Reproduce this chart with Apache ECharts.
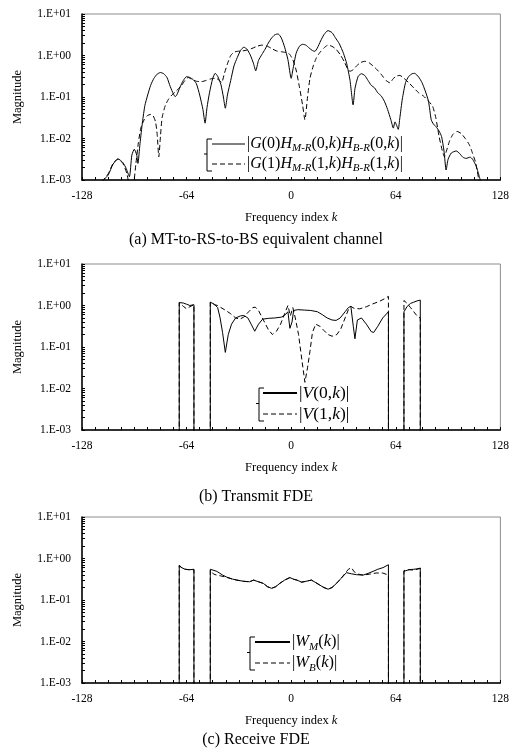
<!DOCTYPE html>
<html>
<head>
<meta charset="utf-8">
<title>FDE channel plots</title>
<script src="https://cdn.jsdelivr.net/npm/echarts@6/dist/echarts.min.js"></script>
<style>
  html, body { margin: 0; padding: 0; background: #fff; }
  #chart { width: 512px; height: 756px; }
</style>
</head>
<body>
<div id="chart"></div>
<script>
// 0 on a log axis is not drawable, so band edges drop to this value (far below 1.E-03)
var F = 1e-6;

// axis ticks
var xTickLabels = [-128, -64, 0, 64, 128];
var yTickLabels = ['1.E-03', '1.E-02', '1.E-01', '1.E+00', '1.E+01'];

// (a) MT-to-RS-to-BS equivalent channel
var kA0 = [-116,-112,-109,-106,-103,-101,-99,-97.5,-96,-94.5,
  -93.8,-92.5,-91,-89.5,-88,-86,-84,-82,-80,-78,
  -76,-74,-72,-71,-70,-68,-66,-64,-62,-60,
  -58,-56,-54,-52.7,-51.5,-50,-48,-46.5,-45,-43,
  -41.5,-40.3,-39,-37,-35,-33,-31,-29,-27,-25,
  -23,-21.7,-20,-18,-16,-14,-12,-10,-8,-6,
  -4,-2,0,1,3,5,7,9,11,13,
  14.5,16,18,20,22.5,25,27,29.5,32,34,
  36,37.9,39,41,43,45,47,49,51,53,
  55,57,59,61,62.5,63.5,64.5,65.5,66.5,68,
  70,72,74,75.5,78,80,82,84,85.7,87,
  88.7,90.5,92,93.5,94.8,96,98,101,103,105,
  107,109.5,111,113,115,116];
var magA0 = [0.0009,0.00132,0.0024,0.00324,0.00263,0.00191,0.0012,0.00398,0.0055,0.00398,
  0.00251,0.00759,0.0251,0.0631,0.105,0.191,0.282,0.355,0.389,0.363,
  0.295,0.178,0.117,0.102,0.112,0.174,0.251,0.309,0.295,0.263,
  0.209,0.112,0.0501,0.0234,0.0562,0.126,0.282,0.372,0.316,0.2,
  0.1,0.0537,0.112,0.251,0.562,0.891,1.318,1.585,1.413,1.023,
  0.631,0.427,0.759,1.047,1.413,1.995,2.63,3.162,3.311,2.63,
  1.585,0.794,0.282,0.447,1.122,1.66,1.862,1.778,1.514,1.318,
  1.259,1.514,2.239,3.162,3.981,3.548,2.692,1.905,1.122,0.631,
  0.251,0.0646,0.158,0.316,0.363,0.331,0.251,0.191,0.166,0.126,
  0.107,0.0794,0.0501,0.0282,0.0178,0.0251,0.0209,0.0166,0.0316,0.0891,
  0.224,0.316,0.363,0.372,0.302,0.224,0.141,0.0794,0.0282,0.0224,
  0.0191,0.0151,0.0112,0.00501,0.00174,0.00316,0.00447,0.00501,0.00437,0.00355,
  0.00331,0.00355,0.00316,0.00224,0.00126,0.00089];

var kA1 = [-116,-112,-109,-106,-103,-100.5,-98.5,-96.5,-95,-93.5,
  -92,-90,-88,-86,-84.5,-83,-82,-81,-80,-79,
  -77,-75,-73,-71,-69,-67,-65,-63,-61,-58,
  -55,-52,-49,-46,-44,-42.5,-41,-39,-37,-35,
  -33,-30,-27,-24,-21,-18,-15,-12,-9,-6,
  -3,-1,1,3,5,7,8.4,10,11.5,13.5,
  15.5,17.5,20,22.5,25,27.5,30,32.5,34.5,36,
  38,40,42.5,45,47.5,50,52,55,58,60.5,
  62,64,66.5,69,72,75,78,81,84,86.5,
  88.5,90.5,92.5,93.8,95,97,99,101.5,104,106.5,
  109,111,113,115];
var magA1 = [0.0009,0.00141,0.00251,0.00316,0.00251,0.00141,0.00063,0.00079,0.00251,0.00794,
  0.0178,0.0282,0.0355,0.038,0.0355,0.0251,0.0126,0.00363,0.0112,0.0316,
  0.0631,0.0891,0.112,0.132,0.158,0.191,0.251,0.295,0.269,0.24,
  0.234,0.251,0.275,0.282,0.251,0.224,0.355,0.631,1.0,1.202,
  1.259,1.288,1.349,1.479,1.66,1.778,1.698,1.479,1.288,1.23,
  1.175,1.072,0.794,0.447,0.178,0.0631,0.0282,0.1,0.282,0.562,
  0.891,1.175,1.514,1.778,1.66,1.413,1.047,0.708,0.479,0.417,
  0.457,0.562,0.676,0.724,0.676,0.562,0.479,0.355,0.251,0.219,
  0.263,0.316,0.331,0.282,0.219,0.166,0.126,0.105,0.0794,0.0603,
  0.0316,0.0112,0.00501,0.00363,0.00501,0.00891,0.0126,0.0148,0.0132,0.01,
  0.00708,0.00437,0.00251,0.00089];

// (b) Transmit FDE
var kB0 = [-68.5,-68.5,-66,-64,-62,-59.5,-59.5,
  -49.5,-49.5,-47,-45,-43.5,-42,-40.3,-38.5,-36.5,-34,
  -31,-29,-26.5,-24.5,-22.3,-20,-17.5,-14,-10,-6,
  -3.5,-2,-0.8,0.5,1.5,4,8,12,16,19,
  22,25,27.5,30,33,35,36.5,38,39,40.5,
  43,46,49,50.5,53,56,59.5,59.5,
  69,69,71,73,75,77,79,79];
var magB0 = [F,1.175,1.148,1.072,1.0,1.047,F,
  F,1.202,1.072,0.891,0.501,0.224,0.0741,0.2,0.355,0.501,
  0.562,0.575,0.501,0.355,0.24,0.355,0.468,0.49,0.501,0.525,
  0.603,0.708,0.282,0.398,0.759,0.794,0.776,0.759,0.708,0.603,
  0.501,0.447,0.437,0.501,0.708,0.891,0.955,0.316,0.158,0.447,
  0.501,0.355,0.234,0.224,0.316,0.501,0.708,F,
  F,0.708,0.955,1.122,1.202,1.29,1.349,F];

var kB1 = [-68.5,-68.5,-66,-64,-62,-59.5,-59.5,
  -49.5,-49.5,-47,-45,-43,-40,-37,-34,-31.5,-29,
  -26,-23.5,-22,-20,-17,-14,-11.5,-9,-6.5,-4,
  -2,-0.5,1,2.5,4.5,6.5,8.4,10,11.5,13,
  15,17.5,20,22.5,25,28,30.5,33,35,36.5,
  38.5,42,46,50,54,57,59.5,59.5,
  69,69,71,73,75,77,79,79];
var magB1 = [F,1.175,0.955,0.832,0.933,1.047,F,
  F,1.202,1.047,1.0,0.891,0.759,0.631,0.501,0.468,0.525,
  0.708,0.891,0.912,0.759,0.447,0.263,0.2,0.24,0.355,0.631,
  1.0,0.562,0.891,0.501,0.2,0.0501,0.0141,0.0316,0.0794,0.224,
  0.355,0.316,0.251,0.2,0.182,0.2,0.282,0.501,0.794,0.955,
  0.851,0.832,0.933,1.096,1.259,1.445,1.66,F,
  F,1.318,1.122,0.891,0.708,0.562,0.501,F];

// (c) Receive FDE
var kC0 = [-68.5,-68.5,-67,-65,-62,-59.5,-59.5,
  -49.5,-49.5,-45.5,-42,-39.4,-36,-33.3,-29,-25.5,-23,
  -20,-17,-14.5,-12,-9.5,-7,-4,-0.8,1.5,3.5,
  6.4,9,12.4,15,17.5,20,22.6,25,27.7,30.5,
  33.8,36.9,40,44,47,50.1,53,56.2,59.5,59.5,
  69,69,72,75,77,79,79];
var magC0 = [F,0.692,0.603,0.55,0.537,0.55,F,
  F,0.55,0.49,0.4,0.355,0.32,0.302,0.282,0.275,0.302,
  0.275,0.251,0.209,0.191,0.209,0.251,0.302,0.347,0.316,0.302,
  0.269,0.282,0.302,0.263,0.229,0.2,0.182,0.2,0.251,0.331,
  0.457,0.427,0.407,0.398,0.437,0.49,0.55,0.603,0.708,F,
  F,0.49,0.537,0.55,0.562,0.589,F];

var kC1 = [-68.5,-68.5,-66,-63,-59.5,-59.5,
  -49.5,-49.5,-47.5,-45.5,-43,-40,-36,-33.3,-29,-25.5,
  -23,-20,-17,-14.5,-12,-9.5,-7,-4,-0.8,1.5,
  3.5,6.4,9,12.4,15,17.5,20,22.6,25,27.7,
  30.5,33,35,36.9,38.5,41,44,48,52,56,
  59.5,59.5,
  69,69,72,75,77,79,79];
var magC1 = [F,0.661,0.562,0.537,0.537,F,
  F,0.525,0.42,0.398,0.38,0.355,0.32,0.302,0.282,0.275,
  0.302,0.275,0.251,0.209,0.191,0.209,0.251,0.302,0.347,0.316,
  0.302,0.269,0.282,0.302,0.263,0.229,0.2,0.182,0.2,0.251,
  0.331,0.44,0.55,0.6,0.48,0.42,0.398,0.42,0.447,0.447,
  0.398,F,
  F,0.513,0.537,0.525,0.55,0.575,F];

var FONT = 'Liberation Serif';

function pairs(ks, vs) {
  if (ks.length !== vs.length) throw new Error('length mismatch ' + ks.length + ' / ' + vs.length);
  return ks.map(function (k, i) { return [k, vs[i]]; });
}

// log minor ticks 1..9 per decade
var yTicks = [];
[0.001, 0.01, 0.1, 1].forEach(function (d) {
  for (var m = 1; m < 10; m++) yTicks.push(+(d * m).toPrecision(3));
});
yTicks.push(10);

var tops = [14, 264, 517];
var plotH = 166;

var grids = [], xAxes = [], yAxes = [];
tops.forEach(function (t, i) {
  grids.push({ left: 82, right: 11, top: t, height: plotH, show: true,
    borderColor: '#8c8c8c', borderWidth: 1, backgroundColor: 'transparent' });
  xAxes.push({
    type: 'value', gridIndex: i, min: -128, max: 128, interval: 8,
    axisLine: { show: true, onZero: false, lineStyle: { color: '#000', width: 1.5 } },
    axisTick: { show: true, inside: true, length: 3, lineStyle: { color: '#000' } },
    axisLabel: {
      color: '#000', fontFamily: FONT, fontSize: 11.5, margin: 10,
      formatter: function (v) { return xTickLabels.indexOf(v) >= 0 ? String(v) : ''; }
    },
    splitLine: { show: false },
    name: 'Frequency index {i|k}', nameLocation: 'middle', nameGap: 31,
    nameTextStyle: { color: '#000', fontFamily: FONT, fontSize: 12.5,
      rich: { i: { fontStyle: 'italic', fontFamily: FONT, fontSize: 12.5, color: '#000' } } }
  });
  yAxes.push({
    type: 'log', logBase: 10, gridIndex: i, min: 0.001, max: 10,
    axisLine: { show: true, onZero: false, lineStyle: { color: '#000', width: 1.5 } },
    axisTick: { show: true, inside: true, length: 3, customValues: yTicks, lineStyle: { color: '#000' } },
    axisLabel: {
      color: '#000', fontFamily: FONT, fontSize: 11.5, margin: 11,
      formatter: function (v) { return yTickLabels[Math.round(Math.log10(v)) + 3]; }
    },
    splitLine: { show: false },
    name: 'Magnitude', nameLocation: 'middle', nameGap: 58, nameRotate: 90,
    nameTextStyle: { color: '#000', fontFamily: FONT, fontSize: 12.5 }
  });
});

function line(idx, data, dashed, smooth) {
  return {
    type: 'line', xAxisIndex: idx, yAxisIndex: idx, data: data,
    showSymbol: false, symbol: 'none', smooth: smooth || false,
    lineStyle: { color: '#000', width: 1, type: dashed ? [5, 3] : 'solid' },
    animation: false
  };
}

var series = [
  line(0, pairs(kA0, magA0), false, 0.2),
  line(0, pairs(kA1, magA1), true, 0.2),
  line(1, pairs(kB0, magB0), false),
  line(1, pairs(kB1, magB1), true),
  line(2, pairs(kC0, magC0), false),
  line(2, pairs(kC1, magC1), true)
];

// legend blocks (bracket + line samples + math labels)
var richMath = function (size) {
  var base = { fontFamily: FONT, fontSize: size, color: '#000', lineHeight: size + 4 };
  return {
    n: base,
    i: Object.assign({}, base, { fontStyle: 'italic' }),
    s: { fontFamily: FONT, fontSize: Math.round(size * 0.66), fontStyle: 'italic', color: '#000',
         verticalAlign: 'bottom', lineHeight: Math.round(size * 0.66) }
  };
};

function legendBlock(bx, y1, y2, x1, x2, solidW, label1, label2, size) {
  var mid = (y1 + y2) / 2;
  var top = y1 - 5, bot = y2 + 7;
  return [
    { type: 'polyline', shape: { points: [[bx + 5, top], [bx, top], [bx, bot], [bx + 5, bot]] },
      style: { stroke: '#000', lineWidth: 1, fill: null } },
    { type: 'line', shape: { x1: bx - 3, y1: mid, x2: bx, y2: mid }, style: { stroke: '#000', lineWidth: 1 } },
    { type: 'line', shape: { x1: x1, y1: y1, x2: x2, y2: y1 }, style: { stroke: '#000', lineWidth: solidW } },
    { type: 'line', shape: { x1: x1, y1: y2, x2: x2, y2: y2 }, style: { stroke: '#000', lineWidth: 1, lineDash: [5, 3] } },
    { type: 'text', x: x2 + 2, y: y1, style: { text: label1, rich: richMath(size), verticalAlign: 'middle', align: 'left' } },
    { type: 'text', x: x2 + 2, y: y2, style: { text: label2, rich: richMath(size), verticalAlign: 'middle', align: 'left' } }
  ];
}

function caption(txt, y) {
  return { type: 'text', x: 256, y: y,
    style: { text: txt, font: '16px "' + FONT + '"', fill: '#000', align: 'center', verticalAlign: 'middle' } };
}

var graphics = []
  .concat(legendBlock(207, 144, 164, 212, 245, 1,
    '{n||}{i|G}{n|(0)}{i|H}{s|M-R}{n|(0,}{i|k}{n|)}{i|H}{s|B-R}{n|(0,}{i|k}{n|)|}',
    '{n||}{i|G}{n|(1)}{i|H}{s|M-R}{n|(1,}{i|k}{n|)}{i|H}{s|B-R}{n|(1,}{i|k}{n|)|}', 16))
  .concat(legendBlock(259, 393, 414, 263, 297, 2,
    '{n||}{i|V}{n|(0,}{i|k}{n|)|}', '{n||}{i|V}{n|(1,}{i|k}{n|)|}', 17.5))
  .concat(legendBlock(250, 642, 663, 255, 290, 2,
    '{n||}{i|W}{s|M}{n|(}{i|k}{n|)|}', '{n||}{i|W}{s|B}{n|(}{i|k}{n|)|}', 16.5))
  .concat([
    caption('(a) MT-to-RS-to-BS equivalent channel', 240),
    caption('(b) Transmit FDE', 497),
    caption('(c) Receive FDE', 740)
  ]);

var chart = echarts.init(document.getElementById('chart'), null, { renderer: 'canvas' });
chart.setOption({
  backgroundColor: '#fff',
  animation: false,
  grid: grids,
  xAxis: xAxes,
  yAxis: yAxes,
  series: series,
  graphic: graphics
});
</script>
</body>
</html>
